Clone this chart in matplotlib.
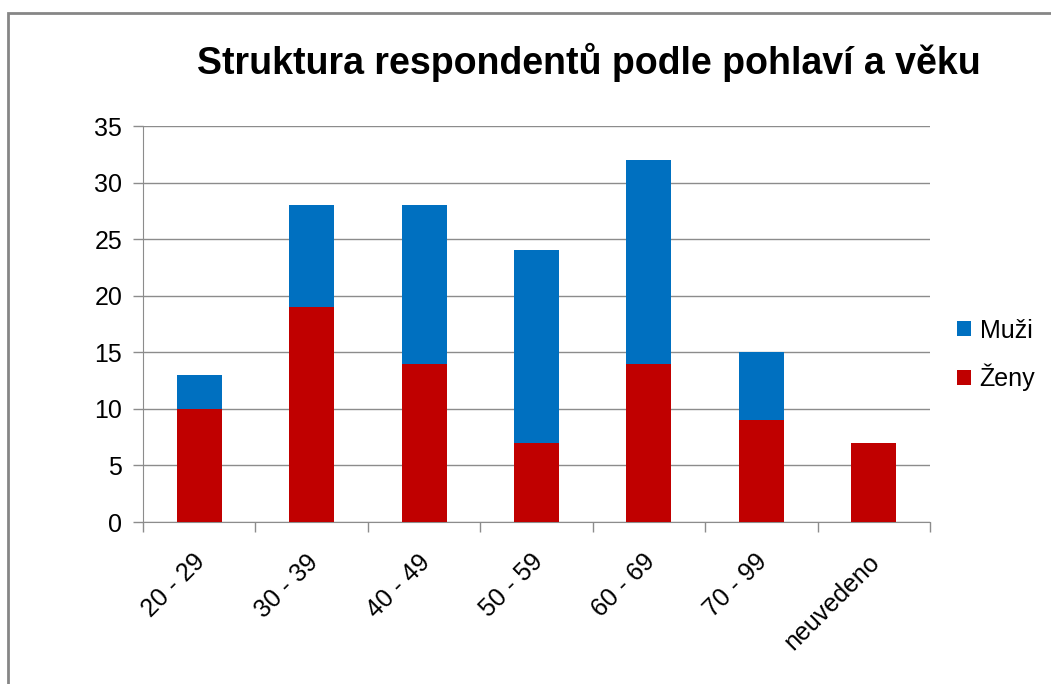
import matplotlib.pyplot as plt
from matplotlib.patches import Rectangle
import numpy as np

plt.rcParams['font.family'] = ['Liberation Sans', 'DejaVu Sans']

categories = ['20 - 29', '30 - 39', '40 - 49', '50 - 59', '60 - 69', '70 - 99', 'neuvedeno']
zeny = [10, 19, 14, 7, 14, 9, 7]
muzi = [3, 9, 14, 17, 18, 6, 0]

fig = plt.figure(figsize=(10.51, 6.84), dpi=100)
fig.patches.append(Rectangle((8 / 1051, -0.05), 1.1, 1 - 13 / 684 + 0.05,
                             transform=fig.transFigure, fill=False,
                             edgecolor='#868686', linewidth=2))

ax = fig.add_axes([143 / 1051, 1 - 522 / 684, (930 - 143) / 1051, (522 - 126) / 684])

x = np.arange(len(categories))
ax.bar(x, zeny, width=0.4, color='#C00000', label='Ženy', zorder=3)
ax.bar(x, muzi, width=0.4, bottom=zeny, color='#0070C0', label='Muži', zorder=3)

ax.set_xlim(-0.5, len(categories) - 0.5)
ax.set_ylim(0, 35)
ax.set_yticks(range(0, 36, 5))
ax.grid(axis='y', color='#8c8c8c', linewidth=1, zorder=0)

# label anchors sit a little left of the bar centres (no visible tick marks)
ax.set_xticks(x - 0.055)
ax.set_xticklabels(categories, rotation=45, ha='right', va='top',
                   rotation_mode='anchor', fontsize=18)
ax.set_xticks(np.arange(-0.5, len(categories), 1), minor=True)
ax.tick_params(axis='x', which='major', length=0, pad=20)
ax.tick_params(axis='x', which='minor', length=7, color='#8c8c8c', width=1)
ax.tick_params(axis='y', length=7, color='#8c8c8c', width=1, labelsize=18, pad=8)

for side in ['top', 'right']:
    ax.spines[side].set_visible(False)
for side in ['left', 'bottom']:
    ax.spines[side].set_color('#8c8c8c')

fig.text(0.56, 1 - 62 / 684, 'Struktura respondentů podle pohlaví a věku',
         ha='center', va='center', fontsize=27, fontweight='bold')

handles, labels = ax.get_legend_handles_labels()
fig.legend(handles[::-1], labels[::-1], loc='center left',
           bbox_to_anchor=(957 / 1051, 1 - 355 / 684), frameon=False,
           fontsize=18, handlelength=0.55, handleheight=0.55, handletextpad=0.35,
           labelspacing=0.85, borderpad=0, borderaxespad=0)

fig.savefig('out.png', dpi=100)
